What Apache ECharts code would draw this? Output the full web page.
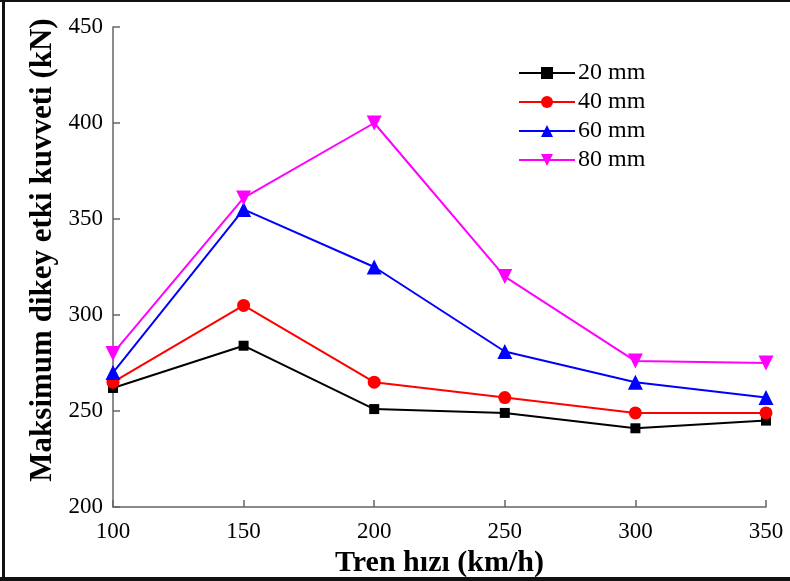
<!DOCTYPE html>
<html><head><meta charset="utf-8">
<script src="https://cdn.jsdelivr.net/npm/echarts@6/dist/echarts.min.js"></script>
<style>html,body{margin:0;padding:0;background:#fff;}#c{width:790px;height:581px;}</style>
</head><body><div id="c"></div>
<script>
var speeds = [100, 150, 200, 250, 300, 350];
var s20 = [262, 284, 251, 249, 241, 245];
var s40 = [265, 305, 265, 257, 249, 249];
var s60 = [270, 355, 325, 281, 265, 257];
var s80 = [280, 361, 400, 320, 276, 275];
var names = ['20 mm', '40 mm', '60 mm', '80 mm'];
var yTitle = 'Maksimum dikey etki kuvveti (kN)';
var xTitle = 'Tren hızı (km/h)';
var colors = ['#000000', '#ff0000', '#0000ff', '#ff00ff'];
var symbols = ['rect', 'circle', 'triangle', 'path://M0,0 L10,0 L5,9 Z'];
var sizes = [10, 13, 15, 15];
var all = [s20, s40, s60, s80];
var font = '"Liberation Serif", "Times New Roman", serif';
var chart = echarts.init(document.getElementById('c'));
chart.setOption({
  animation: false,
  grid: {left: 113, right: 24, top: 27, bottom: 74, containLabel: false, outerBoundsMode: 'none'},
  legend: {
    orient: 'vertical', left: 518, top: 61, padding: 0, itemGap: 5, itemWidth: 56, itemHeight: 15,
    textStyle: {fontFamily: font, fontSize: 24, color: '#000', padding: [0,0,0,-2]},
    data: names
  },
  graphic: [
    {type: 'rect', shape: {x: 0, y: 0, width: 790, height: 2}, style: {fill: '#111'}},
    {type: 'rect', shape: {x: 2, y: 0, width: 3, height: 581}, style: {fill: '#111'}},
    {type: 'rect', shape: {x: 0, y: 577, width: 790, height: 4}, style: {fill: '#111'}},
    {type: 'text', x: 43, y: 250, rotation: Math.PI / 2,
      style: {text: yTitle, fontFamily: font, fontSize: 31, fontWeight: 'bold', fill: '#000',
        textAlign: 'center', textVerticalAlign: 'middle'}}
  ],
  xAxis: {
    type: 'value', min: 100, max: 350, interval: 50,
    name: xTitle, nameLocation: 'middle', nameGap: 35,
    nameTextStyle: {fontFamily: font, fontSize: 30, fontWeight: 'bold', color: '#000'},
    axisLine: {show: true, lineStyle: {color: '#666', width: 1.5}},
    axisTick: {show: true, inside: true, length: 7, lineStyle: {color: '#666', width: 1.5}},
    axisLabel: {fontFamily: font, fontSize: 23, color: '#000', margin: 13},
    splitLine: {show: false}
  },
  yAxis: {
    type: 'value', min: 200, max: 450, interval: 50,
    axisLine: {show: true, lineStyle: {color: '#666', width: 1.5}},
    axisTick: {show: true, inside: true, length: 7, lineStyle: {color: '#666', width: 1.5}},
    axisLabel: {fontFamily: font, fontSize: 23, color: '#000', margin: 10},
    splitLine: {show: false}
  },
  series: all.map(function (d, i) {
    return {
      name: names[i], type: 'line',
      data: speeds.map(function (x, j) { return [x, d[j]]; }),
      symbol: symbols[i], symbolSize: sizes[i], showSymbol: true,
      lineStyle: {color: colors[i], width: 2},
      itemStyle: {color: colors[i]},
      clip: false
    };
  })
});
</script></body></html>
